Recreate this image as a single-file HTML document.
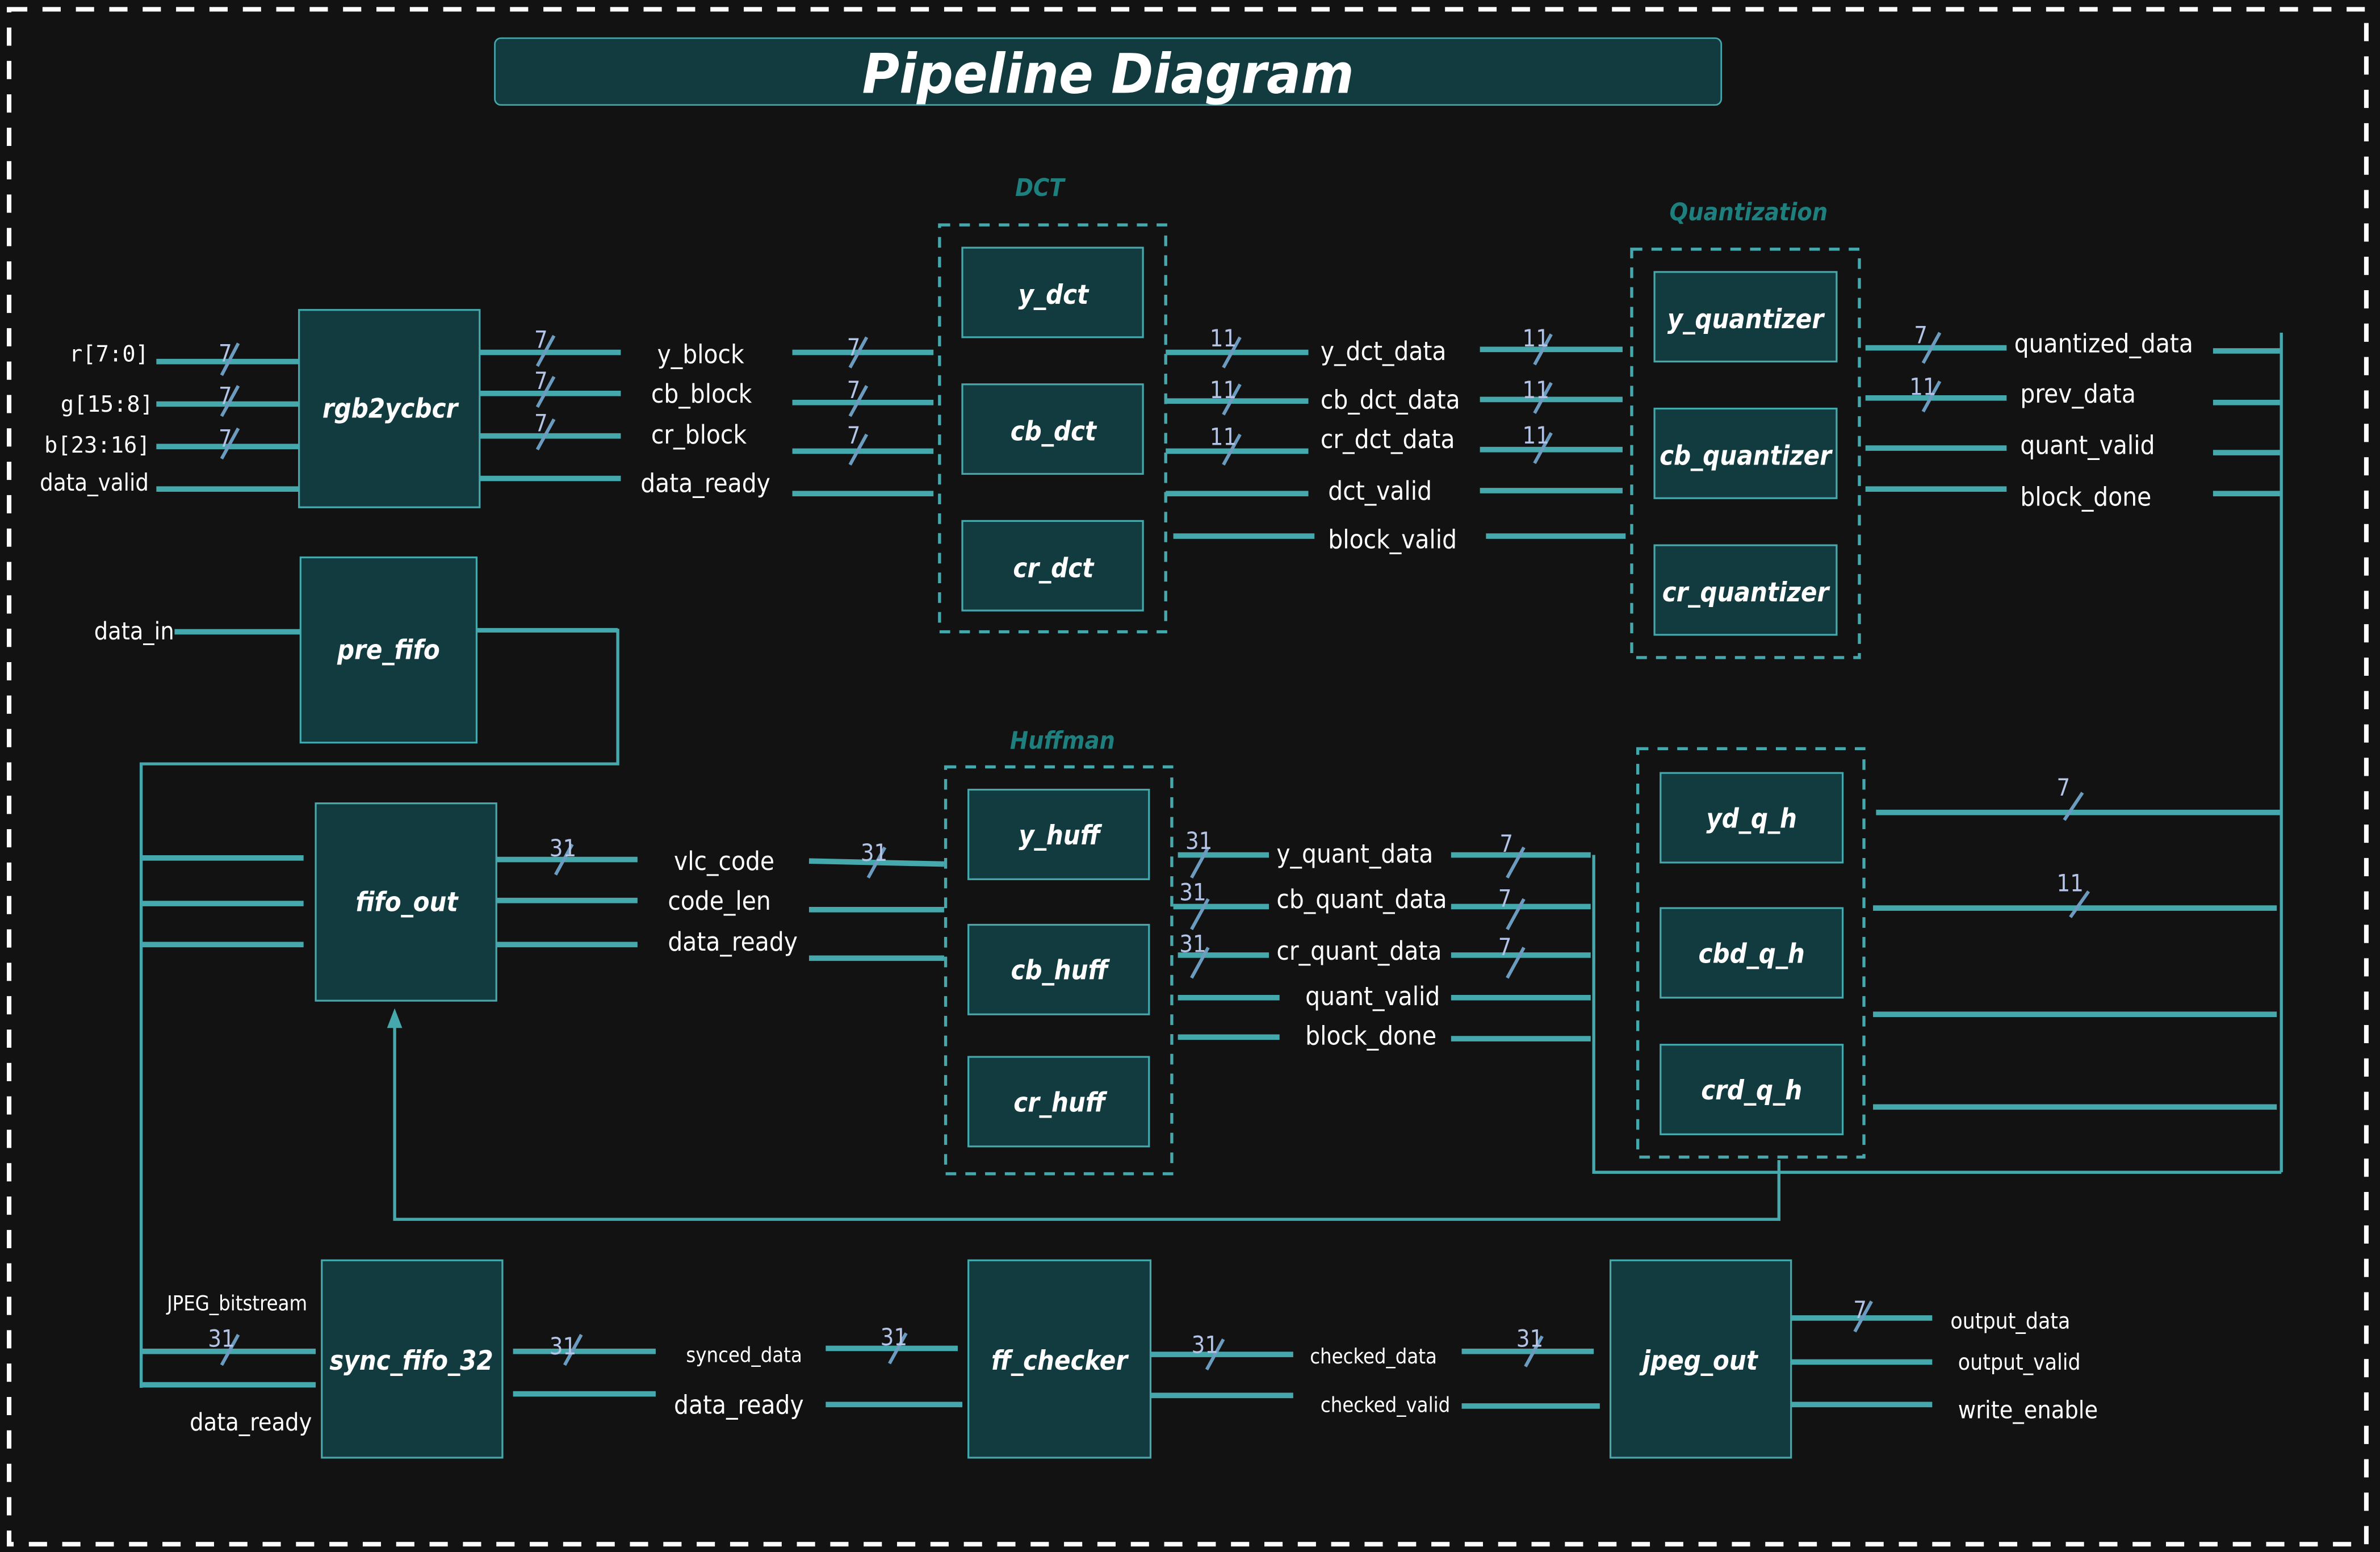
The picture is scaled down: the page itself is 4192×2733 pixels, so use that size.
<!DOCTYPE html>
<html><head><meta charset="utf-8"><style>
html,body{margin:0;padding:0;background:#121212;}
svg{display:block;}
text{font-family:"DejaVu Sans Condensed","DejaVu Sans","Liberation Sans",sans-serif;fill:#fff;}
.w{stroke:#45a8ad;stroke-width:3.6;fill:none;}
.t{stroke:#45a8ad;stroke-width:2;fill:none;}
.s{stroke:#6b9cc0;stroke-width:2.2;}
.n{fill:#b4c4e6;font-size:15.5px;}
.b{fill:#123b3f;stroke:#45a8ad;stroke-width:1.2;}
.g{fill:none;stroke:#45a8ad;stroke-width:2;stroke-dasharray:7,6;}
.bl{font-weight:bold;font-style:italic;font-size:17.5px;text-anchor:middle;}
.gl{font-weight:bold;font-style:italic;font-size:16px;fill:#1e7f7f;text-anchor:middle;}
.l{font-size:17px;}
.sm{font-size:13.5px;}
.m{font-family:"DejaVu Sans Mono","Liberation Mono",monospace;font-size:14.5px;}
</style></head><body>
<svg width="4192" height="2733" viewBox="0 0 1568 1022" xmlns="http://www.w3.org/2000/svg">
<rect x="0" y="0" width="1568" height="1022" fill="#121212"/>
<rect x="6" y="6" width="1553" height="1011" fill="none" stroke="#fff" stroke-width="3" stroke-dasharray="12,10"/>
<rect x="326" y="25" width="808" height="44" rx="4" fill="#123b3f" stroke="#45a8ad" stroke-width="1"/>
<text x="730" y="61" style="font-weight:bold;font-style:italic;font-size:36px" text-anchor="middle" textLength="324" lengthAdjust="spacingAndGlyphs">Pipeline Diagram</text>

<!-- rgb2ycbcr -->
<rect class="b" x="197" y="204" width="119" height="130"/>
<text class="bl" x="257" y="275">rgb2ycbcr</text>
<text class="m" x="98" y="238" text-anchor="end">r[7:0]</text>
<text class="m" x="101" y="271" text-anchor="end">g[15:8]</text>
<text class="m" x="99" y="298" text-anchor="end">b[23:16]</text>
<text class="l" x="98" y="323" text-anchor="end" style="font-size:15.5px">data_valid</text>
<path class="w" d="M103 238H197M103 266H197M103 294H197M103 322H197"/>
<line class="s" x1="146" y1="247" x2="157" y2="226"/><text class="n" x="144" y="238">7</text>
<line class="s" x1="146" y1="274" x2="157" y2="254"/><text class="n" x="144" y="266">7</text>
<line class="s" x1="146" y1="302" x2="157" y2="282"/><text class="n" x="144" y="294">7</text>
<path class="w" d="M316 232H409M316 259H409M316 287H409M316 315H409"/>
<line class="s" x1="354" y1="241" x2="365" y2="221"/><text class="n" x="352" y="229">7</text>
<line class="s" x1="354" y1="268" x2="365" y2="248"/><text class="n" x="352" y="256">7</text>
<line class="s" x1="354" y1="296" x2="365" y2="276"/><text class="n" x="352" y="284">7</text>
<text class="l" x="433" y="239">y_block</text>
<text class="l" x="429" y="265">cb_block</text>
<text class="l" x="429" y="292">cr_block</text>
<text class="l" x="422" y="324">data_ready</text>
<path class="w" d="M522 232H615M522 265H615M522 297H615M522 325H615"/>
<line class="s" x1="560" y1="242" x2="571" y2="222"/><text class="n" x="558" y="234">7</text>
<line class="s" x1="560" y1="274" x2="571" y2="254"/><text class="n" x="558" y="262">7</text>
<line class="s" x1="560" y1="306" x2="571" y2="286"/><text class="n" x="558" y="292">7</text>

<!-- DCT -->
<text class="gl" x="685" y="129">DCT</text>
<rect class="g" x="619" y="148" width="149" height="268"/>
<rect class="b" x="634" y="163" width="119" height="59"/><text class="bl" x="694" y="200">y_dct</text>
<rect class="b" x="634" y="253" width="119" height="59"/><text class="bl" x="694" y="290">cb_dct</text>
<rect class="b" x="634" y="343" width="119" height="59"/><text class="bl" x="694" y="380">cr_dct</text>
<path class="w" d="M768 232H862M768 264H862M768 297H862M768 325H862M773 353H866"/>
<line class="s" x1="806" y1="242" x2="817" y2="222"/><text class="n" x="797" y="228">11</text>
<line class="s" x1="806" y1="273" x2="817" y2="253"/><text class="n" x="797" y="262">11</text>
<line class="s" x1="806" y1="306" x2="817" y2="286"/><text class="n" x="797" y="293">11</text>
<text class="l" x="870" y="237">y_dct_data</text>
<text class="l" x="870" y="269">cb_dct_data</text>
<text class="l" x="870" y="295">cr_dct_data</text>
<text class="l" x="875" y="329">dct_valid</text>
<text class="l" x="875" y="361">block_valid</text>
<path class="w" d="M975 230H1069M975 263H1069M975 296H1069M975 323H1069M979 353H1071"/>
<line class="s" x1="1011" y1="240" x2="1022" y2="220"/><text class="n" x="1003" y="228">11</text>
<line class="s" x1="1011" y1="272" x2="1022" y2="252"/><text class="n" x="1003" y="262">11</text>
<line class="s" x1="1011" y1="305" x2="1022" y2="285"/><text class="n" x="1003" y="292">11</text>

<!-- Quantization -->
<text class="gl" x="1152" y="145">Quantization</text>
<rect class="g" x="1075" y="164" width="150" height="269"/>
<rect class="b" x="1090" y="179" width="120" height="59"/><text class="bl" x="1150" y="216">y_quantizer</text>
<rect class="b" x="1090" y="269" width="120" height="59"/><text class="bl" x="1150" y="306">cb_quantizer</text>
<rect class="b" x="1090" y="359" width="120" height="59"/><text class="bl" x="1150" y="396">cr_quantizer</text>
<path class="w" d="M1229 229H1322M1229 262H1322M1229 295H1322M1229 322H1322"/>
<line class="s" x1="1267" y1="239" x2="1278" y2="219"/><text class="n" x="1261" y="226">7</text>
<line class="s" x1="1267" y1="271" x2="1278" y2="251"/><text class="n" x="1258" y="260">11</text>
<text class="l" x="1327" y="232">quantized_data</text>
<text class="l" x="1331" y="265">prev_data</text>
<text class="l" x="1331" y="299">quant_valid</text>
<text class="l" x="1331" y="333">block_done</text>
<path class="w" d="M1458 231H1502M1458 265H1502M1458 298H1502M1458 325H1502"/>
<path class="t" d="M1503 219V772"/>

<!-- pre_fifo -->
<rect class="b" x="198" y="367" width="116" height="122"/><text class="bl" x="256" y="434">pre_fifo</text>
<text class="l" x="62" y="421" style="font-size:16px">data_in</text>
<path class="w" d="M115 416H198"/>
<path class="t" d="M314 415H407V503H93V914"/>
<path class="w" d="M314 415H407" style="stroke-width:3"/>

<!-- fifo_out -->
<rect class="b" x="208" y="529" width="119" height="130"/><text class="bl" x="268" y="600">fifo_out</text>
<path class="w" d="M93 565H200M93 595H200M93 622H200"/>
<path class="w" d="M327 566H420M327 593H420M327 622H420"/>
<line class="s" x1="366" y1="576" x2="377" y2="556"/><text class="n" x="362" y="564">31</text>
<text class="l" x="444" y="573">vlc_code</text>
<text class="l" x="440" y="599">code_len</text>
<text class="l" x="440" y="626">data_ready</text>
<path class="w" d="M533 567L622 569M533 599H622M533 631H622"/>
<line class="s" x1="572" y1="578" x2="583" y2="558"/><text class="n" x="567" y="567">31</text>
<path class="t" d="M1172 764V803H260V672"/>
<path d="M260 664L255 677H265Z" fill="#45a8ad"/>

<!-- Huffman -->
<text class="gl" x="700" y="493">Huffman</text>
<rect class="g" x="623" y="505" width="149" height="268"/>
<rect class="b" x="638" y="520" width="119" height="59"/><text class="bl" x="698" y="556">y_huff</text>
<rect class="b" x="638" y="609" width="119" height="59"/><text class="bl" x="698" y="645">cb_huff</text>
<rect class="b" x="638" y="696" width="119" height="59"/><text class="bl" x="698" y="732">cr_huff</text>
<path class="w" d="M776 563H836M773 597H836M776 629H836M776 657H843M776 683H843"/>
<line class="s" x1="785" y1="578" x2="796" y2="558"/><text class="n" x="781" y="559">31</text>
<line class="s" x1="785" y1="612" x2="796" y2="592"/><text class="n" x="777" y="593">31</text>
<line class="s" x1="785" y1="644" x2="796" y2="624"/><text class="n" x="777" y="627">31</text>
<text class="l" x="841" y="568">y_quant_data</text>
<text class="l" x="841" y="598">cb_quant_data</text>
<text class="l" x="841" y="632">cr_quant_data</text>
<text class="l" x="860" y="662">quant_valid</text>
<text class="l" x="860" y="688">block_done</text>
<path class="w" d="M956 563H1048M956 597H1048M956 629H1048M956 657H1048M956 684H1048"/>
<line class="s" x1="993" y1="578" x2="1004" y2="558"/><text class="n" x="988" y="561">7</text>
<line class="s" x1="993" y1="612" x2="1004" y2="592"/><text class="n" x="987" y="597">7</text>
<line class="s" x1="993" y1="644" x2="1004" y2="624"/><text class="n" x="987" y="629">7</text>
<path class="t" d="M1050 563V772H1503"/>

<!-- q_h group -->
<rect class="g" x="1079" y="493" width="149" height="269"/>
<rect class="b" x="1094" y="509" width="120" height="59"/><text class="bl" x="1154" y="545">yd_q_h</text>
<rect class="b" x="1094" y="598" width="120" height="59"/><text class="bl" x="1154" y="634">cbd_q_h</text>
<rect class="b" x="1094" y="688" width="120" height="59"/><text class="bl" x="1154" y="724">crd_q_h</text>
<path class="w" d="M1236 535H1502M1234 598H1500M1234 668H1500M1234 729H1500"/>
<line class="s" x1="1360" y1="540" x2="1372" y2="522"/><text class="n" x="1355" y="524">7</text>
<line class="s" x1="1364" y1="604" x2="1376" y2="587"/><text class="n" x="1355" y="587">11</text>

<!-- bottom row -->
<rect class="b" x="212" y="830" width="119" height="130"/><text class="bl" x="271" y="902">sync_fifo_32</text>
<text class="sm" x="110" y="863">JPEG_bitstream</text>
<path class="w" d="M93 890H208M93 912H208"/>
<line class="s" x1="146" y1="899" x2="157" y2="879"/><text class="n" x="137" y="887">31</text>
<text class="l" x="125" y="942" style="font-size:16px">data_ready</text>
<path class="w" d="M338 890H432M338 918H432"/>
<line class="s" x1="372" y1="899" x2="383" y2="879"/><text class="n" x="362" y="892">31</text>
<text class="sm" x="452" y="897">synced_data</text>
<text class="l" x="444" y="931">data_ready</text>
<path class="w" d="M544 888H631M544 925H634"/>
<line class="s" x1="586" y1="898" x2="597" y2="878"/><text class="n" x="580" y="886">31</text>
<rect class="b" x="638" y="830" width="120" height="130"/><text class="bl" x="698" y="902">ff_checker</text>
<path class="w" d="M758 892H852M758 919H852"/>
<line class="s" x1="795" y1="902" x2="806" y2="882"/><text class="n" x="785" y="891">31</text>
<text class="sm" x="863" y="898">checked_data</text>
<text class="sm" x="870" y="930">checked_valid</text>
<path class="w" d="M963 890H1050M963 926H1054"/>
<line class="s" x1="1005" y1="900" x2="1016" y2="880"/><text class="n" x="999" y="887">31</text>
<rect class="b" x="1061" y="830" width="119" height="130"/><text class="bl" x="1120" y="902">jpeg_out</text>
<path class="w" d="M1180 868H1273M1180 897H1273M1180 925H1273"/>
<line class="s" x1="1222" y1="877" x2="1233" y2="857"/><text class="n" x="1221" y="868">7</text>
<text class="sm" x="1285" y="875" style="font-size:14.5px">output_data</text>
<text class="sm" x="1290" y="902" style="font-size:14.5px">output_valid</text>
<text class="l" x="1290" y="934" style="font-size:16px">write_enable</text>
</svg>
</body></html>
